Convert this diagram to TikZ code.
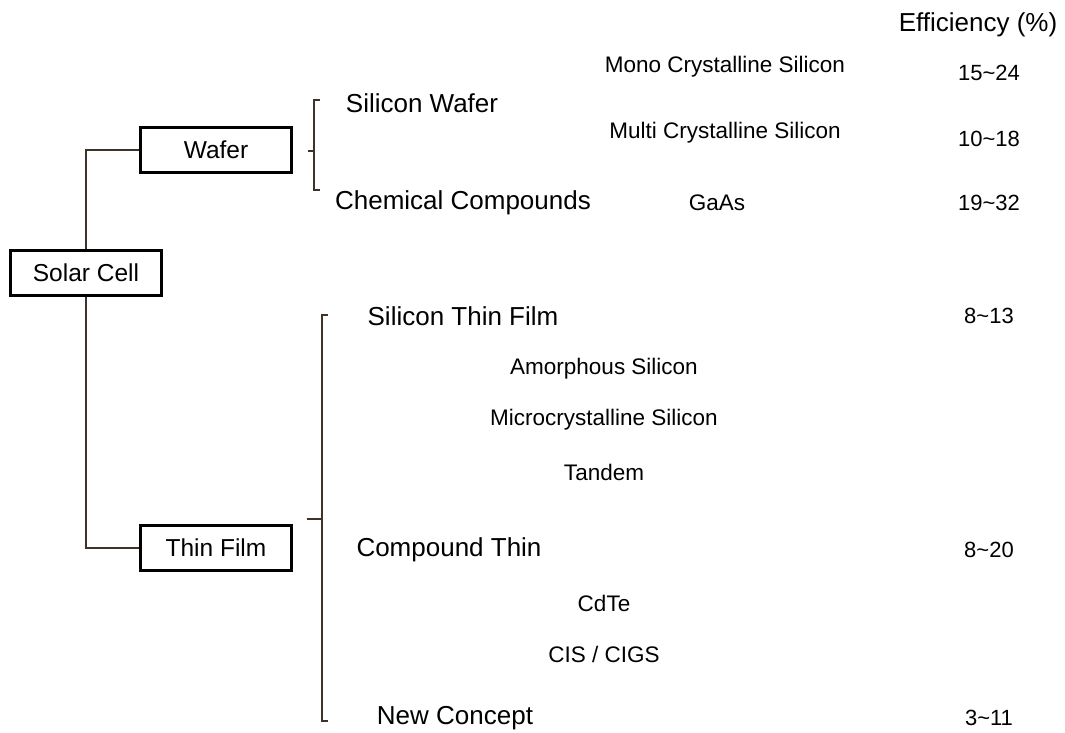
\documentclass[tikz,border=0pt]{standalone}
\usepackage{fontspec}
\setmainfont{Liberation Sans}
\usetikzlibrary{positioning}
\definecolor{bark}{HTML}{3D3329}
\tikzset{x=1pt,y=-1pt,
  cellbox/.style={draw=black,line width=2.4pt,minimum width=151pt,minimum height=45pt,inner sep=0pt,font=\fontsize{24.5}{28}\selectfont},
  link/.style={draw=bark,line width=2.4pt},
  brace/.style={draw=bark,line width=2.2pt},
  head/.style={font=\fontsize{26}{30}\selectfont,inner sep=0pt},
  kind/.style={font=\fontsize{22.5}{26}\selectfont,inner sep=0pt},
  rate/.style={font=\fontsize{22}{26}\selectfont,inner sep=0pt}}
\begin{document}
\begin{tikzpicture}
\useasboundingbox (0,0) rectangle (1065,732);
\node[cellbox] (cell) at (86,273) {Solar Cell};
\node[cellbox] (wafer) at (216,150) {Wafer};
\node[cellbox] (thin) at (216,548) {Thin Film};
\draw[link] (wafer.west) -| (cell.north);
\draw[link] (cell.south) |- (thin.west);
\coordinate (wtop) at (314,100);
\coordinate (wbot) at (314,190);
\coordinate (wmid) at (314,151);
\draw[brace] ([xshift=6pt]wtop) -- (wtop) -- (wbot) -- ([xshift=6pt]wbot);
\draw[brace] (wmid) -- ([xshift=-6pt]wmid);
\coordinate (ttop) at (322,315);
\coordinate (tbot) at (322,721);
\coordinate (tmid) at (322,519);
\draw[brace] ([xshift=6pt]ttop) -- (ttop) -- (tbot) -- ([xshift=6pt]tbot);
\draw[brace] (tmid) -- ([xshift=-15pt]tmid);
\node[head] (effhead) at (978,25) {Efficiency (\%)};
\node[head] (siwafer) at (422,103) {Silicon Wafer};
\node[head] (chem) at (463,203) {Chemical Compounds};
\node[head] (sithin) at (463,316) {Silicon Thin Film};
\node[head] (compthin) at (449,550) {Compound Thin};
\node[head] (newcon) at (455,718) {New Concept};
\node[kind] (mono) at (725,67) {Mono Crystalline Silicon};
\node[kind] (multi) at (725,133) {Multi Crystalline Silicon};
\node[kind] (gaas) at (717,203) {GaAs};
\node[kind] (amor) at (604,369) {Amorphous Silicon};
\node[kind] (micro) at (604,420) {Microcrystalline Silicon};
\node[kind] (tandem) at (604,472) {Tandem};
\node[kind] (cdte) at (604,603) {CdTe};
\node[kind] (cigs) at (604,654) {CIS / CIGS};
\foreach \y/\v/\n in {73/{15\textasciitilde24}/rmono,139/{10\textasciitilde18}/rmulti,203/{19\textasciitilde32}/rgaas,316/{8\textasciitilde13}/rsithin,550/{8\textasciitilde20}/rcomp,718/{3\textasciitilde11}/rnew}
  \node[rate] (\n) at (989,\y) {\v};
\end{tikzpicture}
\end{document}
